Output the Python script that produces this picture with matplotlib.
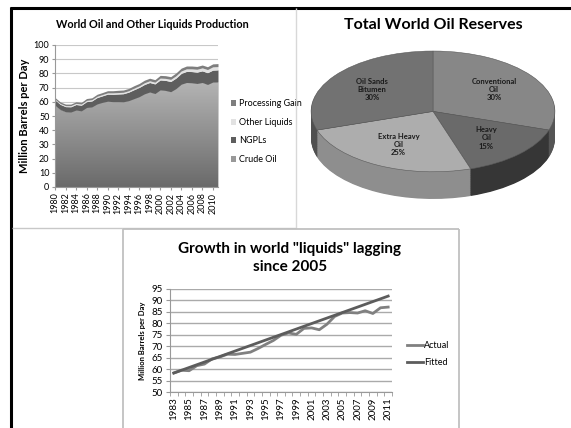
import numpy as np
import matplotlib
matplotlib.use('Agg')
import matplotlib.pyplot as plt
from matplotlib.lines import Line2D

plt.rcParams['font.family'] = ['Lato', 'DejaVu Sans']

W, H = 571, 428

# --- data: world oil and other liquids production (million barrels per day)
years = list(range(1980, 2012))
crude = [57.5, 54.5, 53.0, 52.8, 54.2, 53.6, 56.0, 56.4, 58.5, 59.6, 60.4, 60.1,
         60.1, 60.0, 60.8, 62.2, 63.6, 65.6, 66.9, 65.8, 68.4, 68.0, 67.1, 69.3,
         72.4, 73.6, 73.4, 72.9, 73.6, 72.2, 73.9, 74.0]
ngpl = [3.8, 3.7, 3.6, 3.7, 3.9, 4.0, 4.1, 4.2, 4.5, 4.6, 5.0, 5.2,
        5.4, 5.7, 6.0, 6.3, 6.5, 6.6, 6.7, 6.8, 7.0, 7.1, 7.2, 7.4,
        7.6, 7.8, 7.9, 8.0, 8.2, 8.3, 8.4, 8.5]
other = [0.5, 0.6, 0.7, 0.8, 0.8, 0.8, 0.9, 0.9, 0.9, 0.9, 0.9, 1.0,
         1.0, 1.0, 1.0, 1.1, 1.1, 1.2, 1.2, 1.2, 1.3, 1.4, 1.5, 1.6,
         1.7, 1.8, 1.9, 2.0, 2.1, 2.2, 2.3, 2.3]
gain = [1.2, 1.1, 1.1, 1.1, 1.1, 1.2, 1.3, 1.3, 1.4, 1.4, 1.5, 1.5,
        1.6, 1.6, 1.6, 1.7, 1.7, 1.8, 1.8, 1.8, 1.9, 1.9, 1.9, 2.0,
        2.0, 2.0, 2.0, 2.0, 2.0, 2.0, 2.1, 2.1]

# --- data: total world oil reserves
res_labels = ['Conventional\nOil\n30%', 'Heavy\nOil\n15%', 'Extra Heavy\nOil\n25%', 'Oil Sands\nBitumen\n30%']
res_share = [30, 15, 25, 30]

# --- data: actual vs fitted liquids
fit_years = list(range(1983, 2012))
actual = [58.3, 59.5, 59.3, 61.5, 62.2, 64.5, 65.3, 66.5, 66.4, 66.9, 67.4, 69.0,
          70.8, 72.5, 74.8, 75.8, 75.2, 77.8, 78.0, 77.2, 79.6, 83.0, 84.5, 84.7,
          84.5, 85.5, 84.3, 86.8, 87.1]
fitted = [58.3, 59.5, 60.7, 61.9, 63.1, 64.3, 65.5, 66.7, 67.9, 69.1, 70.3, 71.5,
          72.7, 73.9, 75.1, 76.3, 77.5, 78.7, 79.9, 81.1, 82.3, 83.5, 84.7, 85.9,
          87.1, 88.3, 89.5, 90.7, 91.9]


def box(l, t, r, b):
    return [l / W, 1 - b / H, (r - l) / W, (b - t) / H]


fig = plt.figure(figsize=(W / 100, H / 100), dpi=100)

# frame lines
def fline(x0, y0, x1, y1, color, lw):
    fig.add_artist(Line2D([x0 / W, x1 / W], [1 - y0 / H, 1 - y1 / H], color=color, lw=lw,
                          transform=fig.transFigure, solid_capstyle='butt'))

fline(10, 7.5, 571, 7.5, 'black', 2.2)
fline(11, 7, 11, 428, 'black', 2.2)
fline(12, 228, 296, 228, '#c8c8c8', 1)
fline(296, 8, 296, 228, '#d8d8d8', 1)
fline(123, 229, 459, 229, '#c0c0c0', 1.3)
fline(123, 229, 123, 428, '#c0c0c0', 1.3)
fline(459, 229, 459, 428, '#c0c0c0', 1.3)

# ---------------- top-left: stacked area ----------------
ax1 = fig.add_axes(box(55, 45, 218, 187))
x = np.array(years)
b0 = np.zeros(len(x))
b1 = b0 + np.array(crude)
b2 = b1 + np.array(ngpl)
b3 = b2 + np.array(other)
b4 = b3 + np.array(gain)

crude_poly = ax1.fill_between(x, b0, b1, color='#999999', lw=0, label='Crude Oil')
grad = np.linspace(0, 1, 256).reshape(-1, 1)
im = ax1.imshow(grad, extent=[1980, 2011, 0, 80], origin='lower', aspect='auto',
                cmap=matplotlib.colors.LinearSegmentedColormap.from_list('g', ['#6a6a6a', '#bababa']),
                zorder=2)
im.set_clip_path(crude_poly.get_paths()[0], transform=ax1.transData)
ax1.fill_between(x, b1, b2, color='#5e5e5e', lw=0, label='NGPLs', zorder=2)
ax1.fill_between(x, b2, b3, color='#e2e2e2', lw=0, label='Other Liquids', zorder=2)
ax1.fill_between(x, b3, b4, color='#7e7e7e', lw=0, label='Processing Gain', zorder=2)

ax1.set_xlim(1980, 2011)
ax1.set_ylim(0, 100)
ax1.set_yticks(range(0, 101, 10))
ax1.set_xticks(range(1980, 2011, 2))
ax1.set_xticklabels([str(y) for y in range(1980, 2011, 2)], rotation=90)
ax1.tick_params(labelsize=6.5, length=2, color='#999999', pad=2)
ax1.grid(axis='y', color='#c8c8c8', lw=0.8, zorder=0)
ax1.set_axisbelow(True)
for s in ['top', 'right']:
    ax1.spines[s].set_visible(False)
for s in ['left', 'bottom']:
    ax1.spines[s].set_color('#999999')
ax1.set_ylabel('Million Barrels per Day', fontsize=8, fontweight='bold', labelpad=3)
handles, labels = ax1.get_legend_handles_labels()
leg = ax1.legend(handles[::-1], labels[::-1], loc='center left', bbox_to_anchor=(1.03, 0.39),
                 frameon=False, fontsize=6.5, handlelength=0.6, handleheight=0.6,
                 labelspacing=1.05, handletextpad=0.3)
fig.text(152 / W, 1 - 24 / H, 'World Oil and Other Liquids Production', ha='center', va='center',
         fontsize=7.8, fontweight='bold')

# ---------------- top-right: 3D-look pie ----------------
ax2 = fig.add_axes(box(305, 45, 561, 205))
top_colors = ['#878787', '#6a6a6a', '#adadad', '#727272']
side_colors = ['#555555', '#363636', '#8e8e8e', '#505050']
depth = 0.45
for d in np.linspace(depth, 0.01, 40):
    ax2.pie(res_share, colors=side_colors, startangle=90, counterclock=False,
            center=(0, -d), radius=1, wedgeprops=dict(lw=0))
wedges, texts = ax2.pie(res_share, labels=res_labels, colors=top_colors, startangle=90,
                        counterclock=False, center=(0, 0), radius=1, labeldistance=0.62,
                        wedgeprops=dict(lw=0.4, edgecolor='#5a5a5a'),
                        textprops=dict(fontsize=5.5, fontweight='bold', color='#1a1a1a'))
for t in texts:
    t.set_ha('center')
    t.set_va('center')
    t.set_multialignment('center')
ax2.set_aspect('auto')
ax2.set_xlim(-1.05, 1.05)
ax2.set_ylim(-1.55, 1.1)
ax2.axis('off')
fig.text(433 / W, 1 - 25 / H, 'Total World Oil Reserves', ha='center', va='center',
         fontsize=11.5, fontweight='bold')

# ---------------- bottom: actual vs fitted ----------------
ax3 = fig.add_axes(box(170, 289, 392, 392))
pos = np.arange(len(fit_years)) + 0.5
ax3.plot(pos, actual, color='#808080', lw=2, label='Actual', zorder=3)
ax3.plot(pos, fitted, color='#5c5c5c', lw=2, label='Fitted', zorder=3)
ax3.set_xlim(0, len(fit_years))
ax3.set_ylim(50, 95)
ax3.set_yticks(range(50, 96, 5))
ax3.set_xticks(pos[::2])
ax3.set_xticklabels([str(y) for y in fit_years[::2]], rotation=90)
ax3.set_xticks(np.arange(len(fit_years) + 1), minor=True)
ax3.tick_params(axis='x', which='major', length=0, labelsize=7, pad=4)
ax3.tick_params(axis='x', which='minor', length=3, color='#999999')
ax3.tick_params(axis='y', labelsize=7, length=3, color='#999999', pad=2)
ax3.grid(axis='y', color='#aaaaaa', lw=1, zorder=0)
ax3.set_axisbelow(True)
for s in ['top', 'right']:
    ax3.spines[s].set_visible(False)
for s in ['left', 'bottom']:
    ax3.spines[s].set_color('#999999')
ax3.set_ylabel('Million Barrels per Day', fontsize=5.5, fontweight='bold', labelpad=4)
ax3.legend(loc='center left', bbox_to_anchor=(1.03, 0.37), frameon=False, fontsize=6.5,
           handlelength=1.8, handletextpad=0.1, labelspacing=0.9)
fig.text(290 / W, 1 - 258 / H, 'Growth in world "liquids" lagging\nsince 2005', ha='center',
         va='center', fontsize=11, fontweight='bold', linespacing=1.3)

fig.savefig('out.png', dpi=100)
